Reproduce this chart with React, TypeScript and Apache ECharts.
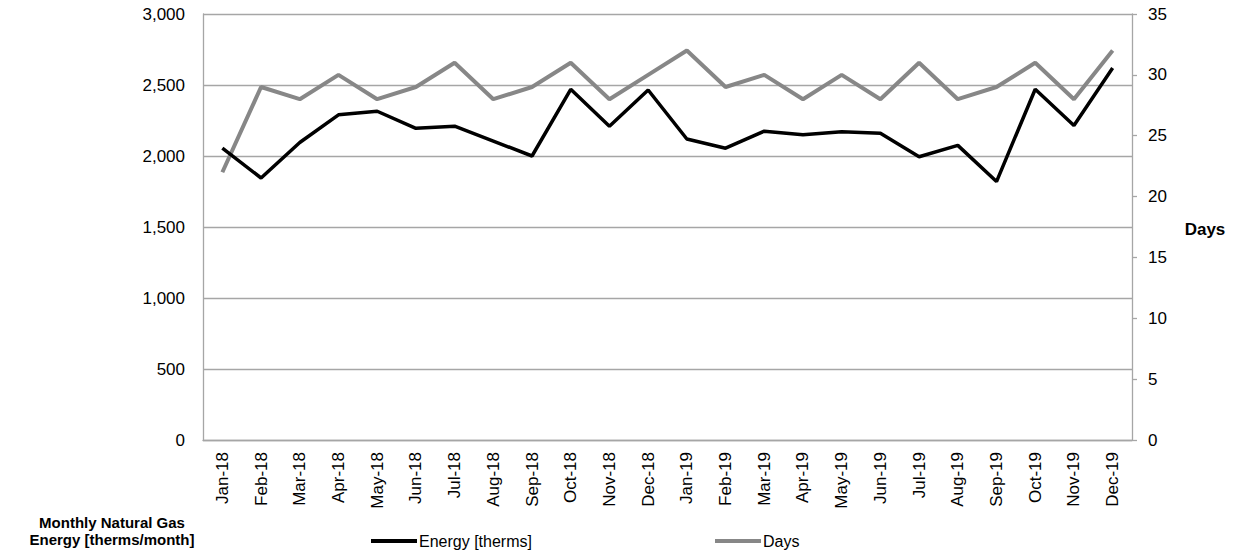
import React, { useEffect, useRef } from "react";
import * as echarts from "echarts";

const categories = [
  "Jan-18", "Feb-18", "Mar-18", "Apr-18", "May-18", "Jun-18", "Jul-18", "Aug-18", "Sep-18", "Oct-18", "Nov-18", "Dec-18",
  "Jan-19", "Feb-19", "Mar-19", "Apr-19", "May-19", "Jun-19", "Jul-19", "Aug-19", "Sep-19", "Oct-19", "Nov-19", "Dec-19",
];

const energyTherms = [
  2055, 1845, 2095, 2290, 2315, 2195, 2210, 2105, 2000, 2470, 2210, 2465,
  2120, 2055, 2175, 2150, 2170, 2160, 1995, 2075, 1820, 2470, 2215, 2620,
];

const days = [
  22, 29, 28, 30, 28, 29, 31, 28, 29, 31, 28, 30,
  32, 29, 30, 28, 30, 28, 31, 28, 29, 31, 28, 32,
];

const FONT = "'Liberation Sans', Arial, sans-serif";
const GRID_COLOR = "#a6a6a6";

export default function App() {
  const ref = useRef<HTMLDivElement>(null);

  useEffect(() => {
    if (!ref.current) return;
    const chart = echarts.init(ref.current, null, { renderer: "svg" });
    chart.setOption({
      animation: false,
      textStyle: { fontFamily: FONT },
      grid: { left: 203, right: 116, top: 14, bottom: 119 },
      legend: [
        {
          data: ["Energy [therms]"],
          left: 366,
          top: 528,
          icon: "rect",
          itemWidth: 46,
          itemHeight: 4,
          itemGap: 4,
          textStyle: { fontFamily: FONT, fontSize: 16, color: "#000", padding: [0, 0, 0, -3] },
        },
        {
          data: ["Days"],
          left: 710,
          top: 528,
          icon: "rect",
          itemWidth: 46,
          itemHeight: 4,
          textStyle: { fontFamily: FONT, fontSize: 16, color: "#000", padding: [0, 0, 0, -3] },
        },
      ],
      xAxis: {
        type: "category",
        data: categories,
        boundaryGap: true,
        axisLine: { show: true, lineStyle: { color: GRID_COLOR, width: 1.3 } },
        axisTick: { show: false },
        axisLabel: {
          rotate: 90,
          interval: 0,
          margin: 12,
          fontSize: 17,
          color: "#000",
          fontFamily: FONT,
        },
        splitLine: { show: false },
      },
      yAxis: [
        {
          type: "value",
          min: 0,
          max: 3000,
          interval: 500,
          axisLine: { show: true, lineStyle: { color: GRID_COLOR, width: 1.3 } },
          axisTick: { show: false },
          axisLabel: {
            margin: 18,
            fontSize: 17,
            color: "#000",
            fontFamily: FONT,
            formatter: (v: number) => v.toLocaleString("en-US"),
          },
          splitLine: { show: true, lineStyle: { color: GRID_COLOR, width: 1.3 } },
        },
        {
          type: "value",
          min: 0,
          max: 35,
          interval: 5,
          position: "right",
          axisLine: { show: true, lineStyle: { color: GRID_COLOR, width: 1.3 } },
          axisTick: { show: true, length: 5, inside: false, lineStyle: { color: GRID_COLOR, width: 1.3 } },
          axisLabel: {
            margin: 16,
            fontSize: 17,
            color: "#000",
            fontFamily: FONT,
          },
          splitLine: { show: false },
        },
      ],
      graphic: [
        {
          type: "text",
          x: 1205,
          y: 229,
          style: {
            text: "Days",
            fontFamily: FONT,
            fontSize: 17,
            fontWeight: "bold",
            fill: "#000",
            align: "center",
            verticalAlign: "middle",
          },
        },
        {
          type: "text",
          x: 112,
          y: 531,
          style: {
            text: "Monthly Natural Gas\nEnergy [therms/month]",
            fontFamily: FONT,
            fontSize: 15,
            fontWeight: "bold",
            fill: "#000",
            align: "center",
            verticalAlign: "middle",
            lineHeight: 17,
          },
        },
      ],
      series: [
        {
          name: "Energy [therms]",
          type: "line",
          yAxisIndex: 0,
          data: energyTherms,
          symbol: "none",
          lineStyle: { color: "#000000", width: 3.5 },
          itemStyle: { color: "#000000" },
          z: 3,
        },
        {
          name: "Days",
          type: "line",
          yAxisIndex: 1,
          data: days,
          symbol: "none",
          lineStyle: { color: "#878787", width: 4 },
          itemStyle: { color: "#878787" },
          z: 2,
        },
      ],
    });
    return () => chart.dispose();
  }, []);

  return (
    <div
      ref={ref}
      style={{ position: "absolute", left: 0, top: 0, width: 1248, height: 559 }}
    />
  );
}
